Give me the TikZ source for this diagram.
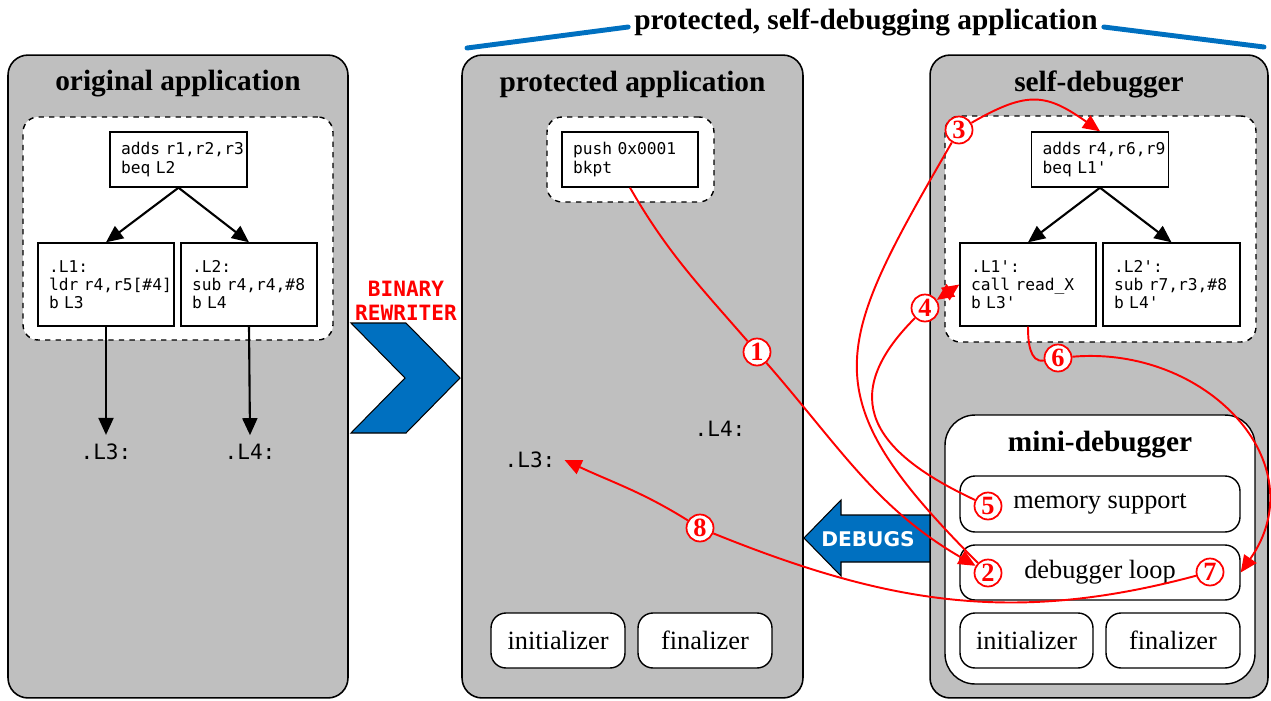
\documentclass[tikz,border=0pt]{standalone}
\usepackage{fontspec}
\setmainfont{Liberation Serif}
\setmonofont{DejaVu Sans Mono}
\newfontfamily\sansbold{DejaVu Sans}
\usetikzlibrary{arrows.meta}

\definecolor{panelgrey}{HTML}{BFBFBF}
\definecolor{rwblue}{HTML}{0070C0}

\tikzset{
  >={Triangle[length=0.34cm,width=0.3cm]},
  panel/.style={draw,line width=0.9pt,fill=panelgrey,rounded corners=0.4cm},
  title/.style={font=\fontsize{16.7}{19}\selectfont\bfseries},
  block/.style={draw,dashed,line width=0.8pt,fill=white,rounded corners=0.3cm},
  code/.style={draw,fill=white,line width=0.8pt,align=left,inner xsep=0.22cm,
    text width=2.3cm,font=\fontsize{9.25}{10.4}\selectfont\ttfamily},
  jump/.style={inner sep=5pt,font=\fontsize{12}{14}\selectfont\ttfamily},
  part/.style={draw,fill=white,line width=0.8pt,rounded corners=0.3cm,
    minimum height=1.1cm,font=\fontsize{15}{17}\selectfont},
  flow/.style={red,line width=1.1pt},
  num/.style={circle,draw=red,fill=white,line width=1pt,text=red,inner sep=0pt,
    minimum size=0.54cm,font=\fontsize{15}{15}\selectfont\bfseries},
  arrow/.style={->,line width=1.2pt}
}

\begin{document}
\begin{tikzpicture}[x=0.02cm,y=0.02cm]
\useasboundingbox (0,0) rectangle (1271,-700);

\node[panel,minimum width=6.8cm,minimum height=12.86cm] (orig) at (178,-376.5) {};
\node[panel,minimum width=6.82cm,minimum height=12.86cm] (prot) at (632.5,-376.5) {};
\node[panel,minimum width=6.76cm,minimum height=12.86cm] (self) at (1099,-376.5) {};

\node[title] (origT) at (178,-84) {original application};
\node[title] (protT) at (632.5,-84) {protected application};
\node[title] (selfT) at (1099,-84) {self-debugger};

% top bracket
\node[title] (topT) at (866,-22) {protected, self-debugging application};
\coordinate (bL) at (467,-48);
\coordinate (bR) at (1264,-47);
\draw[rwblue,line width=2.8pt,line cap=round] (bL) -- ([yshift=-0.1cm]topT.west);
\draw[rwblue,line width=2.8pt,line cap=round] ([yshift=-0.1cm]topT.east) -- (bR);

% original application
\node[block,minimum width=6.2cm,minimum height=4.46cm] (origB) at (178,-228.5) {};
\node[code,minimum height=1.1cm] (oT) at (178.5,-159.5) {\mbox{adds r1,r2,r3}\\beq L2};
\node[code,text width=2.28cm,minimum height=1.66cm] (oL1) at (106,-284.5) {.L1:\\\mbox{ldr r4,r5[\#4]}\\b L3};
\node[code,text width=2.28cm,minimum height=1.66cm] (oL2) at (249,-284.5) {.L2:\\\mbox{sub r4,r4,\#8}\\b L4};
\node[jump] (oL3) at (106,-452) {.L3:};
\node[jump] (oL4) at (250,-452) {.L4:};

\draw[arrow] (oT.south) -- (oL1.north);
\draw[arrow] (oT.south) -- (oL2.north);
\draw[arrow] (oL1.south) -- (oL3.north);
\draw[arrow] (oL2.south) -- (oL4.north);

% binary rewriter
\draw[fill=rwblue,line width=0.6pt] (351,-323) -- (406,-323) -- (460,-378) -- (406,-433) -- (351,-433) -- (405,-378) -- cycle;
\node[red,align=center,font=\fontsize{12}{13.6}\selectfont\ttfamily\bfseries] (rw) at (406,-301) {BINARY\\REWRITER};

% protected application
\node[block,minimum width=3.34cm,minimum height=1.7cm] (protB) at (630.5,-159.5) {};
\node[code,text width=2.28cm,minimum height=1.1cm] (pB) at (630,-159.5) {\mbox{push 0x0001}\\bkpt};
\node[jump] (pL4) at (720,-429) {.L4:};
\node[jump] (pL3) at (530,-460) {.L3:};
\node[part,minimum width=2.68cm] (pI) at (558,-640.5) {initializer};
\node[part,minimum width=2.68cm] (pF) at (705,-640.5) {finalizer};

% debugs
\draw[fill=rwblue,line width=0.6pt] (804,-538) -- (841,-500) -- (841,-515) -- (930,-515) -- (930,-562) -- (841,-562) -- (841,-576) -- cycle;
\node[white,font=\fontsize{11.5}{13}\selectfont\sansbold\bfseries] (dbgs) at (868,-539) {DEBUGS};

% self-debugger
\node[block,minimum width=6.22cm,minimum height=4.52cm] (selfB) at (1100.5,-229) {};
\node[code,minimum height=1.1cm] (sT) at (1100,-159.5) {\mbox{adds r4,r6,r9}\\beq L1'};
\node[code,text width=2.28cm,minimum height=1.66cm] (sL1) at (1028,-284.5) {.L1':\\\mbox{call read\_X}\\b L3'};
\node[code,text width=2.3cm,minimum height=1.66cm] (sL2) at (1171.5,-284.5) {.L2':\\\mbox{sub r7,r3,\#8}\\b L4'};

\draw[arrow] (sT.south) -- (sL1.north);
\draw[arrow] (sT.south) -- (sL2.north);

\node[draw,fill=white,line width=0.8pt,rounded corners=0.6cm,minimum width=6.2cm,minimum height=5.38cm] (mini) at (1100,-549.5) {};
\node[title] (miniT) at (1100,-445) {mini-debugger};
\node[part,minimum width=5.6cm,minimum height=1.12cm] (mem) at (1100,-504) {memory support};
\node[part,minimum width=5.6cm] (loop) at (1100,-572.5) {debugger loop};
\node[part,minimum width=2.66cm] (sI) at (1026.5,-640.5) {initializer};
\node[part,minimum width=2.68cm] (sF) at (1173,-640.5) {finalizer};

% steps
\node[num] (c1) at (757,-352) {1};
\node[num] (c2) at (988,-573) {2};
\node[num] (c3) at (959,-130) {3};
\node[num] (c4) at (925,-308) {4};
\node[num] (c5) at (988,-506) {5};
\node[num] (c6) at (1058,-358) {6};
\node[num] (c7) at (1210,-572) {7};
\node[num] (c8) at (700,-528) {8};

\draw[flow,->] (pB.south) to[out=-60,in=131] (c1) to[out=-49,in=150] (c2);
\draw[flow,->] (c2) to[out=135,in=240,looseness=1.45] (c3) to[out=30,in=145,looseness=1.3] (sT.north);
\draw[flow,<->] (c5) to[out=155,in=225,looseness=1.5] (c4) -- (sL1.west);
\draw[flow,->] (sL1.south) to[out=-90,in=190] (c6) to[out=5,in=55,looseness=1.25] (loop.east);
\draw[flow,->] (c7) to[out=195,in=-22] (c8) to[out=148,in=-25] (pL3.east);
\end{tikzpicture}
\end{document}
